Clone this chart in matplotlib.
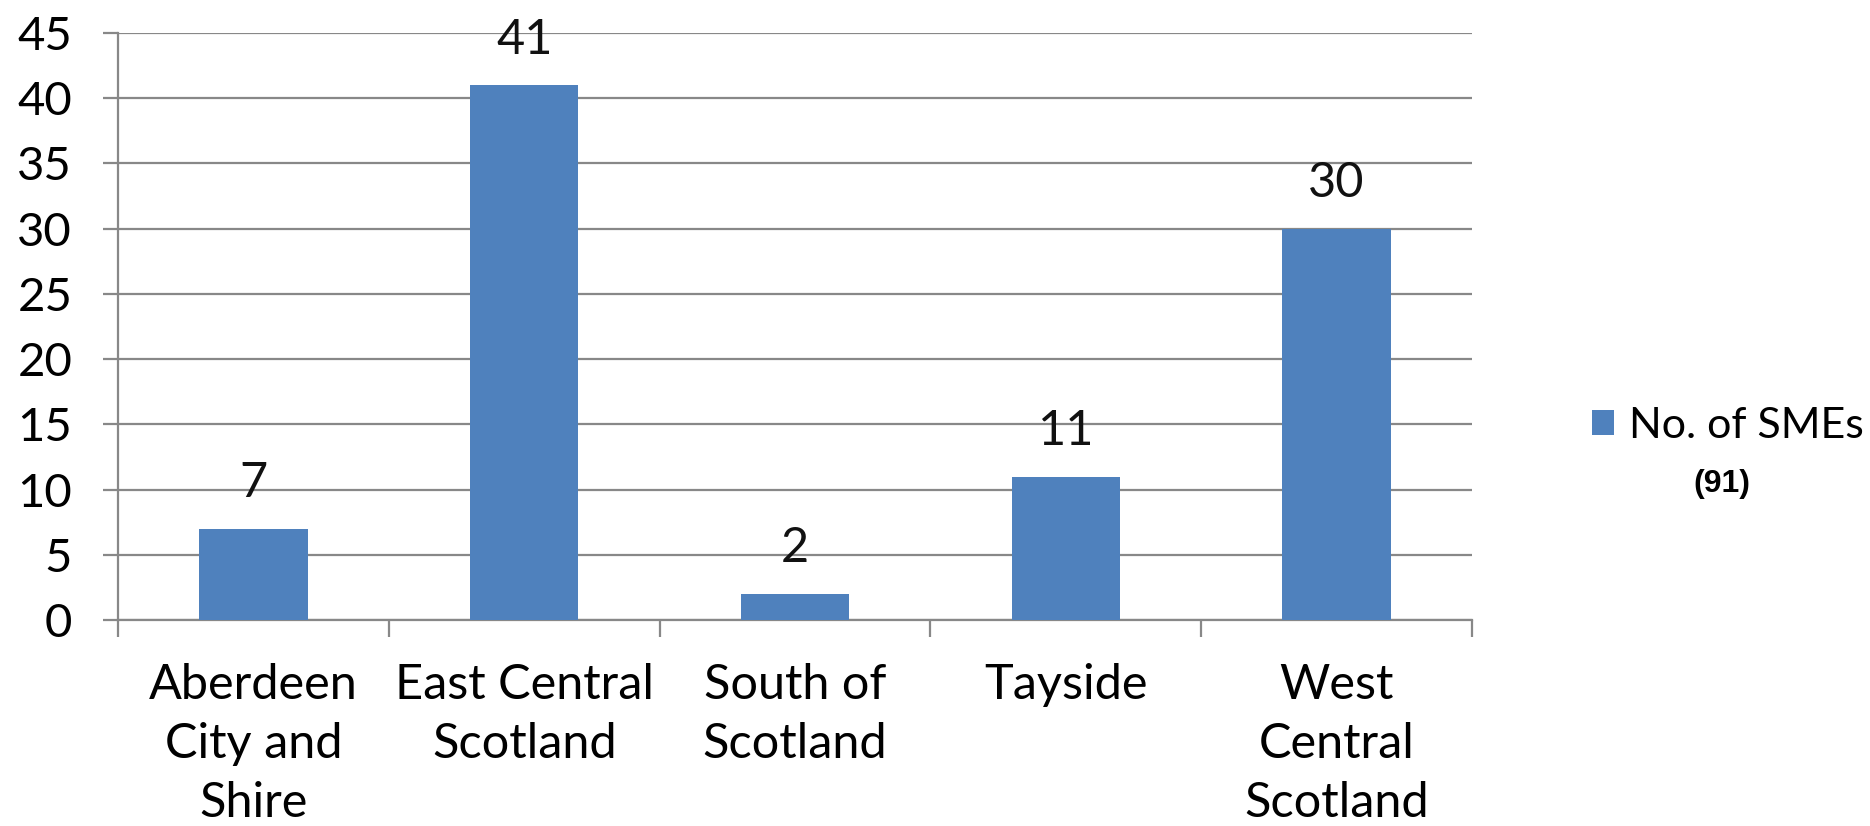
import matplotlib
matplotlib.use("Agg")
import matplotlib.pyplot as plt
from matplotlib.patches import Patch

# data
regions = ["Aberdeen\nCity and\nShire", "East Central\nScotland", "South of\nScotland",
           "Tayside", "West\nCentral\nScotland"]
sme_counts = [7, 41, 2, 11, 30]
series_name = "No. of SMEs"
total_note = "(91)"

bar_color = "#4F81BD"
grid_color = "#888888"
font = "Lato"

plt.rcParams["font.family"] = [font, "DejaVu Sans"]

fig = plt.figure(figsize=(18.7, 8.26), dpi=100)
ax = fig.add_axes([118 / 1870, 1 - 620 / 826, (1472 - 118) / 1870, (620 - 33) / 826])

x = list(range(len(regions)))
bars = ax.bar(x, sme_counts, width=0.4, color=bar_color, zorder=3)
ax.bar_label(bars, padding=17, fontsize=35, color="#111111")

ax.set_xlim(-0.5, len(regions) - 0.5)
ax.set_ylim(0, 45)
ax.set_yticks(range(0, 46, 5))
ax.yaxis.grid(True, color=grid_color, linewidth=1.6, zorder=0)
ax.set_axisbelow(True)

ax.set_xticks(x)
ax.set_xticklabels(regions, fontsize=35, linespacing=1.42)
ax.set_xticks([i - 0.5 for i in range(len(regions) + 1)], minor=True)
ax.tick_params(axis="x", which="major", length=0, pad=31)
ax.tick_params(axis="x", which="minor", length=12, width=1.6, color=grid_color)
ax.tick_params(axis="y", length=11, width=1.6, color=grid_color, labelsize=34, pad=22)

for side in ["top", "right"]:
    ax.spines[side].set_visible(False)
for side in ["left", "bottom"]:
    ax.spines[side].set_color(grid_color)
    ax.spines[side].set_linewidth(1.6)

handle = Patch(facecolor=bar_color, label=series_name)
ax.legend(handles=[handle], loc="center left", bbox_to_anchor=(1592 / 1870, 1 - 426 / 826),
          bbox_transform=fig.transFigure, frameon=False, fontsize=31,
          handlelength=0.5, handleheight=0.5, handletextpad=0.35,
          borderpad=0, borderaxespad=0)

fig.text(1722 / 1870, 1 - 484 / 826, total_note, ha="center", va="center",
         fontsize=23, fontweight="bold", family=["Liberation Sans", "DejaVu Sans"])

fig.savefig("out.png", dpi=100)
